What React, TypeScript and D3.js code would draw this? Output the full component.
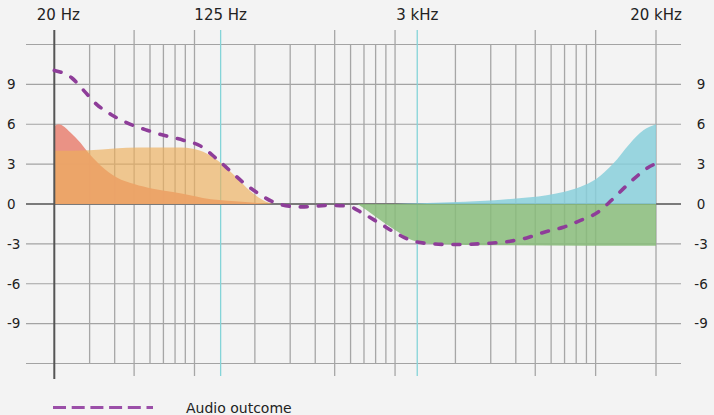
import React, { useEffect, useRef } from "react";
import * as d3 from "d3";

// frequency grid (Hz)
const gridFreqs = [
  30, 40, 50, 60, 70, 80, 90, 100, 200, 300, 400, 500, 600, 700, 800, 900,
  1000, 2000, 3000, 4000, 5000, 6000, 7000, 8000, 9000, 10000, 20000,
];
const tallFreqs = [50, 100, 500, 1000, 5000, 10000, 20000];
const markerFreqs = [135, 1290];
const topLabelFreqs = [20, 135, 1290, 20000];
const topLabelTexts = ["20 Hz", "125 Hz", "3 kHz", "20 kHz"];

const dbGrid = [-12, -9, -6, -3, 0, 3, 6, 9, 12];
const dbLabels = [-9, -6, -3, 0, 3, 6, 9];

// [freq, dB]
const lowShelfRed: [number, number][] = [
  [20, 5.85], [21, 6], [22.5, 5.8], [24, 5.4], [27, 4.6], [29, 4], [34, 2.9],
  [41, 2], [50, 1.5], [62, 1.15], [78, 0.9], [95, 0.65], [110, 0.45],
  [160, 0.2], [200, 0.1], [240, 0],
];
const lowShelfOrange: [number, number][] = [
  [20, 4], [30, 4.05], [53, 4.25], [85, 4.25], [98, 4.15], [115, 3.8],
  [134, 3.15], [162, 2], [189, 1], [220, 0.28], [245, 0],
];
const highCutGreen: [number, number][] = [
  [650, 0], [720, -0.45], [870, -1.35], [1060, -2.2], [1230, -2.75],
  [1550, -3.0], [3300, -3.1], [20000, -3.15],
];
const highShelfCyan: [number, number][] = [
  [1000, 0], [1330, 0.05], [2650, 0.22], [3900, 0.4], [5700, 0.65],
  [6900, 0.9], [8360, 1.28], [10100, 1.9], [12250, 3.04], [14800, 4.54],
  [17300, 5.54], [20000, 6],
];
const audioOutcome: [number, number][] = [
  [20, 10.05], [24.4, 9.5], [28, 8.55], [32.5, 7.5], [38.7, 6.7], [47, 6.05],
  [58, 5.55], [71, 5.15], [88, 4.8], [106, 4.4], [129, 3.4], [153, 2.4],
  [179, 1.5], [208, 0.8], [247, 0.15], [300, -0.17], [342, -0.22],
  [474, -0.1], [585, -0.17], [694, -0.72], [841, -1.47], [1019, -2.22],
  [1233, -2.8], [1551, -3.0], [1915, -3.05], [2975, -2.95], [3742, -2.8],
  [4532, -2.55], [5592, -2.1], [6901, -1.75], [8357, -1.25], [10300, -0.6],
  [12000, 0.28], [14300, 1.4], [16700, 2.3], [19400, 2.95], [20000, 3.0],
];

const FONT = "DejaVu Sans";

const EqChart = () => {
  const svgRef = useRef<SVGSVGElement | null>(null);

  useEffect(() => {
    const width = 714;
    const height = 415;

    const svg = d3
      .select(svgRef.current)
      .attr("width", width)
      .attr("height", height);
    svg.selectAll("*").remove();

    svg
      .append("rect")
      .attr("width", width)
      .attr("height", height)
      .attr("fill", "#f3f3f3");

    const x = d3.scaleLog().domain([20, 20000]).range([54.3, 656]);
    const y = d3.scaleLinear().domain([-12, 12]).range([363.5, 44.5]);

    // horizontal grid
    svg
      .append("g")
      .selectAll("line")
      .data(dbGrid.filter((d) => d !== 0))
      .enter()
      .append("line")
      .attr("x1", 26)
      .attr("x2", 681)
      .attr("y1", (d) => y(d))
      .attr("y2", (d) => y(d))
      .attr("stroke", "#a3a3a3")
      .attr("stroke-width", 1.1);

    // vertical grid
    svg
      .append("g")
      .selectAll("line")
      .data(gridFreqs)
      .enter()
      .append("line")
      .attr("x1", (d) => x(d))
      .attr("x2", (d) => x(d))
      .attr("y1", (d) => (tallFreqs.includes(d) ? 30 : y(12)))
      .attr("y2", (d) => (tallFreqs.includes(d) ? 376 : y(-12)))
      .attr("stroke", "#a6a6a6")
      .attr("stroke-width", 1.3);

    // marker lines
    svg
      .append("g")
      .selectAll("line")
      .data(markerFreqs)
      .enter()
      .append("line")
      .attr("x1", (d) => x(d))
      .attr("x2", (d) => x(d))
      .attr("y1", 30)
      .attr("y2", 376)
      .attr("stroke", "#84d4d8")
      .attr("stroke-width", 1.3);

    // zero line
    svg
      .append("line")
      .attr("x1", 26)
      .attr("x2", 681)
      .attr("y1", y(0))
      .attr("y2", y(0))
      .attr("stroke", "#7a7a7a")
      .attr("stroke-width", 2);

    const area = d3
      .area<[number, number]>()
      .x((d) => x(d[0]))
      .y0(y(0))
      .y1((d) => y(d[1]))
      .curve(d3.curveMonotoneX);

    svg
      .append("path")
      .attr("d", area(lowShelfRed))
      .attr("fill", "#e98c7e")
      .attr("fill-opacity", 0.95);
    svg
      .append("path")
      .attr("d", area(lowShelfOrange))
      .attr("fill", "#edaf5b")
      .attr("fill-opacity", 0.66);
    svg
      .append("path")
      .attr("d", area(highCutGreen))
      .attr("fill", "#88bc7a")
      .attr("fill-opacity", 0.85);
    svg
      .append("path")
      .attr("d", area(highShelfCyan))
      .attr("fill", "#88cfda")
      .attr("fill-opacity", 0.85);

    // main axis
    svg
      .append("line")
      .attr("x1", x(20))
      .attr("x2", x(20))
      .attr("y1", 30)
      .attr("y2", 379)
      .attr("stroke", "#555")
      .attr("stroke-width", 2);

    const line = d3
      .line<[number, number]>()
      .x((d) => x(d[0]))
      .y((d) => y(d[1]))
      .curve(d3.curveMonotoneX);

    svg
      .append("path")
      .attr("d", line(audioOutcome))
      .attr("fill", "none")
      .attr("stroke", "#8e3d99")
      .attr("stroke-width", 3.6)
      .attr("stroke-linecap", "round")
      .attr("stroke-dasharray", "7 11");

    // top labels
    svg
      .append("g")
      .selectAll("text")
      .data(topLabelFreqs)
      .enter()
      .append("text")
      .attr("x", (d) => x(d))
      .attr("dx", (d, i) => (i === 0 ? 4 : 0))
      .attr("y", 20)
      .attr("text-anchor", "middle")
      .attr("font-family", FONT)
      .attr("font-size", 15)
      .attr("fill", "#222")
      .text((d, i) => topLabelTexts[i]);

    // y labels, both sides
    svg
      .append("g")
      .selectAll("text")
      .data(dbLabels)
      .enter()
      .append("text")
      .attr("x", 7)
      .attr("y", (d) => y(d))
      .attr("dy", "0.36em")
      .attr("font-family", FONT)
      .attr("font-size", 13.5)
      .attr("fill", "#222")
      .text((d) => d);

    svg
      .append("g")
      .selectAll("text")
      .data(dbLabels)
      .enter()
      .append("text")
      .attr("x", 701)
      .attr("y", (d) => y(d))
      .attr("dy", "0.36em")
      .attr("text-anchor", "middle")
      .attr("font-family", FONT)
      .attr("font-size", 13.5)
      .attr("fill", "#222")
      .text((d) => d);

    // legend
    svg
      .append("line")
      .attr("x1", 53)
      .attr("x2", 153)
      .attr("y1", 407.5)
      .attr("y2", 407.5)
      .attr("stroke", "#9b4fa8")
      .attr("stroke-width", 3)
      .attr("stroke-dasharray", "13 5.7");

    svg
      .append("text")
      .attr("x", 186)
      .attr("y", 413)
      .attr("font-family", FONT)
      .attr("font-size", 14)
      .attr("fill", "#222")
      .text("Audio outcome");
  }, []);

  return (
    <svg
      ref={svgRef}
      style={{ position: "absolute", left: 0, top: 0, display: "block" }}
    ></svg>
  );
};

export default function App() {
  return <EqChart />;
}
